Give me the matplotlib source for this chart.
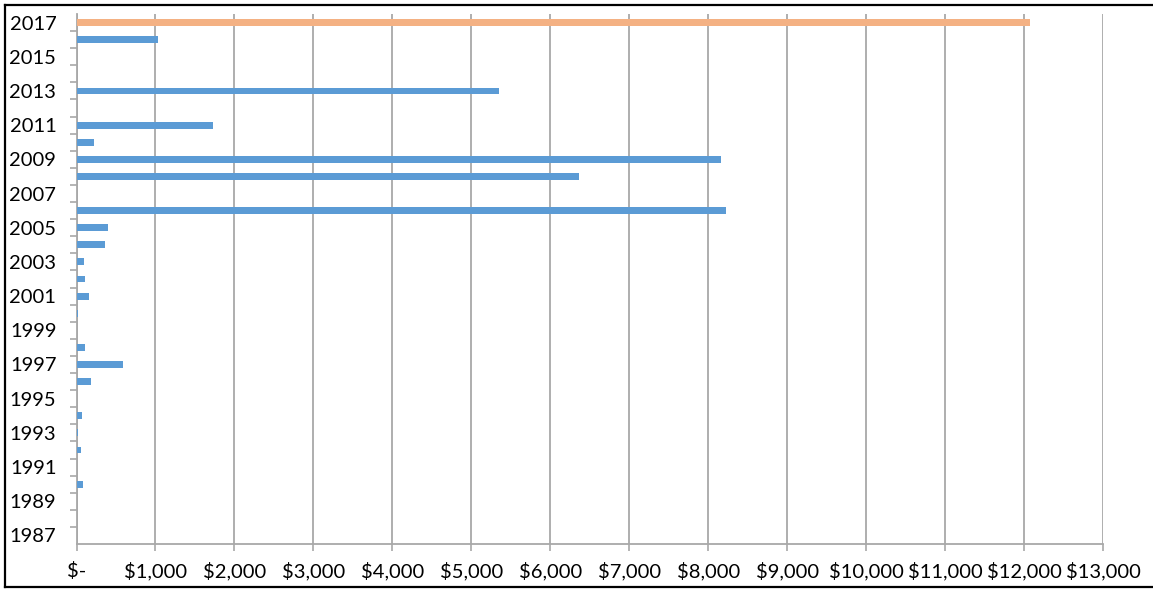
import numpy as np
import matplotlib.pyplot as plt
from matplotlib.lines import Line2D
from matplotlib.ticker import FixedLocator, FuncFormatter

years = list(range(1987, 2018))
# spend per year, 1987 .. 2016 (blue series); 2017 shown separately in orange
values = [0, 0, 0, 82, 0, 53, 23, 70, 0, 187, 592, 111, 0, 23, 158,
          111, 99, 365, 395, 8220, 0, 6360, 8160, 218, 1728, 0, 5350, 0, 0, 1028]
value_2017 = 12080

plt.rcParams['font.family'] = ['Lato', 'DejaVu Sans']

fig = plt.figure(figsize=(11.53, 5.89), dpi=100)
ax = fig.add_axes([76.5 / 1153, 1 - 544 / 589, (1103 - 76.5) / 1153, (544 - 14) / 589])

index = np.arange(len(years))
ax.barh(index[:-1], values, height=0.4, color="#5B9BD5", zorder=3)
ax.barh(index[-1], value_2017, height=0.4, color="#F4B183", zorder=3)

ax.set_xlim(0, 13000)
ax.set_ylim(-0.5, len(years) - 0.5)

ax.set_xticks(np.arange(0, 13001, 1000))
ax.xaxis.set_major_formatter(FuncFormatter(lambda v, p: "$-" if v == 0 else "${:,.0f}".format(v)))
ax.grid(axis='x', color='#a8a8a8', linewidth=1.3, zorder=0)

ax.yaxis.set_major_locator(FixedLocator(index[::2]))
ax.set_yticklabels([str(y) for y in years[::2]])
ax.yaxis.set_minor_locator(FixedLocator(index[:-1] + 0.5))

ax.tick_params(axis='y', which='major', length=0, pad=14.5, labelsize=14.5)
ax.tick_params(axis='y', which='minor', length=5, width=1.2, color='#a8a8a8')
ax.tick_params(axis='x', length=5, width=1.2, color='#a8a8a8', pad=8, labelsize=14.5)

for side in ['top', 'right']:
    ax.spines[side].set_visible(False)
for side in ['left', 'bottom']:
    ax.spines[side].set_color('#a8a8a8')
    ax.spines[side].set_linewidth(1.3)

# outer frame (left, top, bottom)
kw = dict(color='black', linewidth=1.6, transform=fig.transFigure)
fig.add_artist(Line2D([5 / 1153, 5 / 1153], [1 - 5 / 589, 1 - 587 / 589], **kw))
fig.add_artist(Line2D([5 / 1153, 1], [1 - 5 / 589, 1 - 5 / 589], **kw))
fig.add_artist(Line2D([5 / 1153, 1], [1 - 587 / 589, 1 - 587 / 589], **kw))

fig.savefig("out.png", dpi=100, facecolor='white')
